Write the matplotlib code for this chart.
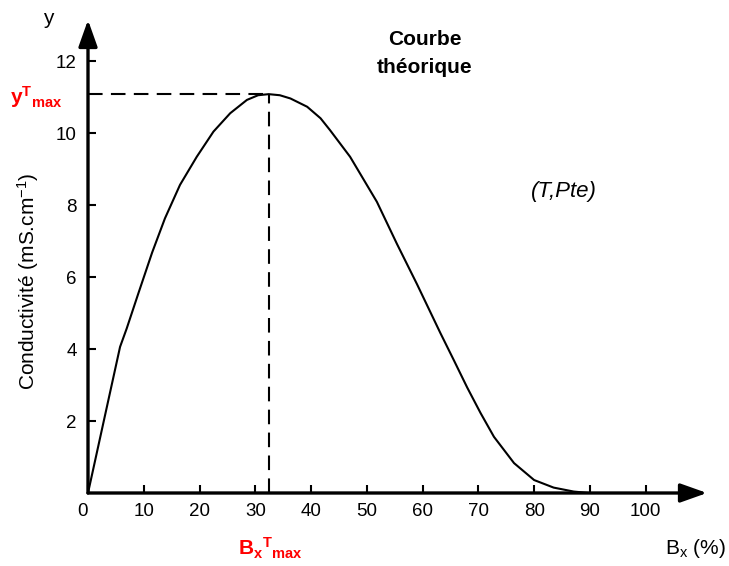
import matplotlib
matplotlib.use('Agg')
import matplotlib.pyplot as plt

plt.rcParams['font.family'] = ['Liberation Sans', 'DejaVu Sans']
plt.rcParams['mathtext.fontset'] = 'custom'
plt.rcParams['mathtext.rm'] = 'Liberation Sans'
plt.rcParams['mathtext.it'] = 'Liberation Sans:italic'
plt.rcParams['mathtext.bf'] = 'Liberation Sans:bold'

# theoretical conductivity curve
bx = [0, 2.9, 5.75, 6.94, 9.04, 11.5, 13.8, 16.5, 19.5, 22.5, 25.5,
      28.5, 30.5, 32.4, 34.4, 36.3, 39.3, 41.7, 43.4, 47.0, 51.8, 55.4, 59.0,
      63.2, 65.6, 68.0, 70.4, 72.8, 76.4, 80.0, 83.5, 87.1, 89.8]
cond = [0, 2.05, 4.06, 4.57, 5.55, 6.68, 7.63, 8.56, 9.34, 10.04, 10.55,
        10.92, 11.05, 11.08, 11.05, 10.96, 10.73, 10.41, 10.08, 9.34, 8.09,
        6.92, 5.8, 4.44, 3.69, 2.93, 2.22, 1.56, 0.83, 0.36, 0.15, 0.04, 0.0]
bx_max = 32.4
y_max = 11.08
x_ticks = list(range(0, 101, 10))
y_ticks = [2, 4, 6, 8, 10, 12]

fig = plt.figure(figsize=(7.29, 5.66), dpi=100)
ax = fig.add_axes([88 / 729, 73 / 566, 619 / 729, 473 / 566])
ax.set_xlim(0, 111)
ax.set_ylim(0, 13.14)

ax.plot(bx, cond, color='k', lw=1.5)
ax.plot([0, bx_max], [y_max, y_max], color='k', lw=1.5, dashes=(7, 4))
ax.plot([bx_max, bx_max], [0, y_max], color='k', lw=1.5, dashes=(7, 4))

for s in ax.spines.values():
    s.set_visible(False)
arrow = dict(arrowstyle='-|>,head_length=0.9,head_width=0.32', lw=2.4,
             color='k', mutation_scale=18, shrinkA=0, shrinkB=0)
ax.annotate('', xy=(1, 0), xytext=(0, 0), xycoords='axes fraction', arrowprops=arrow)
ax.annotate('', xy=(0, 1), xytext=(0, 0), xycoords='axes fraction', arrowprops=arrow)

ax.set_xticks(x_ticks)
ax.set_yticks(y_ticks)
ax.tick_params(direction='in', length=6, width=1.5, labelsize=13.5)
ax.tick_params(axis='x', pad=7)
ax.tick_params(axis='y', pad=8)
# the "0" sits a little left of its tick in the original
ax.get_xticklabels()[0].set_horizontalalignment('right')

fig.text(48 / 729, 1 - 18 / 566, 'y', fontsize=15, ha='center', va='center')
fig.text(28 / 729, 1 - 281 / 566, 'Conductivité (mS.cm$^{-1}$)', fontsize=15,
         rotation=90, ha='center', va='center')
fig.text(726 / 729, 1 - 548 / 566, 'B$_\\mathrm{x}$ (%)', fontsize=15,
         ha='right', va='center')
fig.text(10 / 729, 1 - 97 / 566, r'$\mathbf{y}^{\mathbf{T}}{}_{\mathbf{max}}$',
         fontsize=15, color='#ff0000', ha='left', va='center')
fig.text(270 / 729, 1 - 548 / 566, r'$\mathbf{B_x}{}^{\mathbf{T}}{}_{\mathbf{max}}$',
         fontsize=15, color='#ff0000', ha='center', va='center')
fig.text(425 / 729, 1 - 53.5 / 566, 'Courbe\nthéorique', fontsize=15,
         fontweight='bold', ha='center', va='center', linespacing=1.55)
fig.text(564 / 729, 1 - 192 / 566, '(T,Pte)', fontsize=16, style='italic',
         ha='center', va='center')

fig.savefig('out.png', dpi=100)
